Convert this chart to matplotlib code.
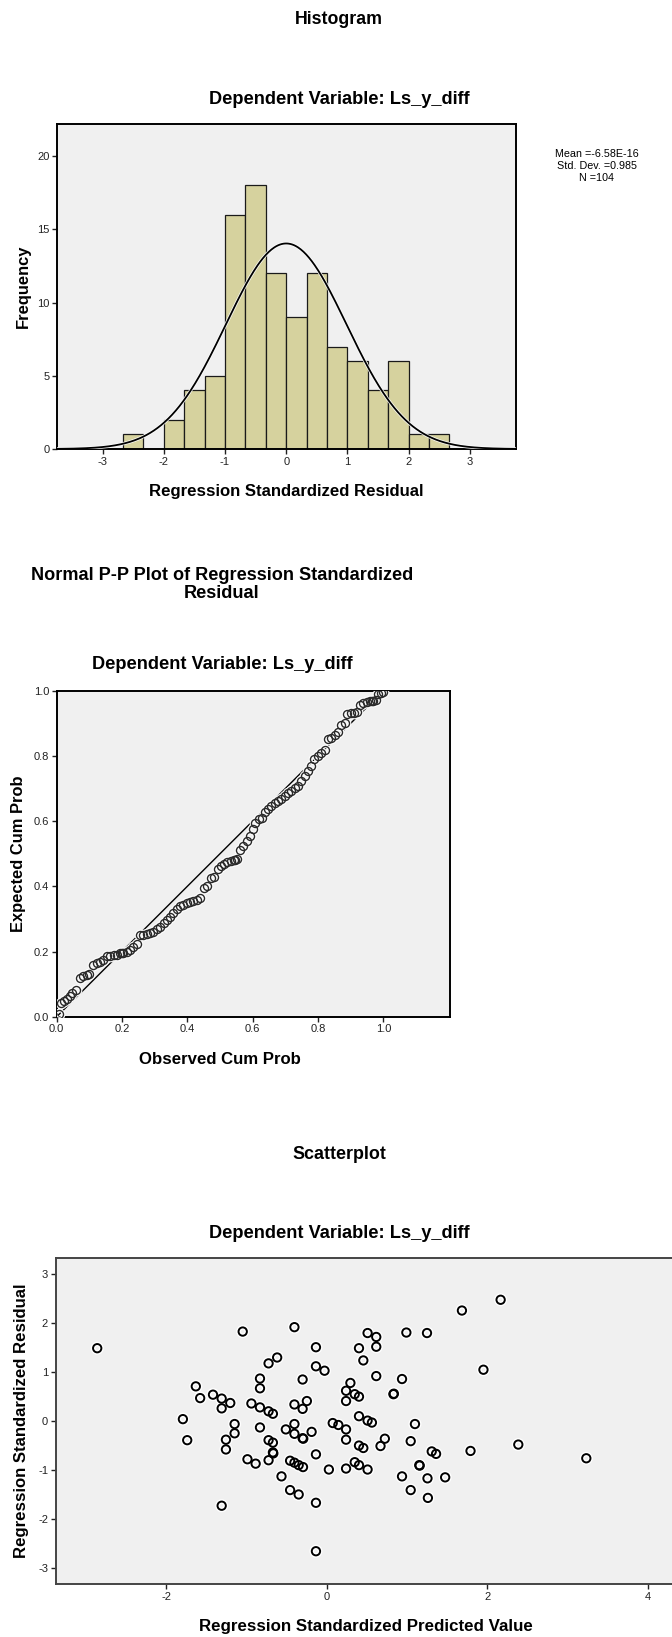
import numpy as np
import matplotlib
matplotlib.use("Agg")
import matplotlib.pyplot as plt

plt.rcParams['font.family'] = ['Liberation Sans', 'DejaVu Sans']
plt.rcParams['axes.unicode_minus'] = False

# ---------------- data ----------------
# Histogram of regression standardized residuals
hist_bin_left = [-2.667, -2.333, -2.0, -1.667, -1.333, -1.0, -0.667, -0.333,
                 0.0, 0.333, 0.667, 1.0, 1.333, 1.667, 2.0, 2.333]
hist_counts = [1, 0, 2, 4, 5, 16, 18, 12, 9, 12, 7, 6, 4, 6, 1, 1]
hist_bin_width = 0.3333
hist_mean = -6.58e-16
hist_std = 0.985
hist_n = 104
hist_xticks = [-3, -2, -1, 0, 1, 2, 3]
hist_yticks = [0, 5, 10, 15, 20]

# Normal P-P plot points
pp_obs = [0.006, 0.014, 0.022, 0.031, 0.040, 0.048, 0.058, 0.071, 0.082, 0.092,
          0.100, 0.112, 0.122, 0.133, 0.143, 0.153, 0.163, 0.174, 0.184, 0.194,
          0.199, 0.204, 0.214, 0.224, 0.235, 0.245, 0.255, 0.265, 0.276, 0.286,
          0.296, 0.306, 0.316, 0.327, 0.337, 0.347, 0.357, 0.367, 0.378, 0.388,
          0.398, 0.408, 0.418, 0.429, 0.439, 0.451, 0.461, 0.471, 0.482, 0.494,
          0.504, 0.512, 0.522, 0.533, 0.543, 0.547, 0.551, 0.561, 0.571, 0.582,
          0.592, 0.602, 0.608, 0.618, 0.627, 0.637, 0.647, 0.657, 0.667, 0.678,
          0.688, 0.698, 0.708, 0.718, 0.729, 0.739, 0.749, 0.759, 0.769, 0.780,
          0.788, 0.800, 0.810, 0.820, 0.830, 0.841, 0.851, 0.861, 0.871, 0.882,
          0.890, 0.900, 0.910, 0.918, 0.929, 0.939, 0.949, 0.959, 0.964, 0.969,
          0.976, 0.984, 0.992, 1.000]
pp_exp = [0.007, 0.041, 0.048, 0.055, 0.063, 0.072, 0.081, 0.118, 0.125, 0.129,
          0.131, 0.160, 0.164, 0.168, 0.174, 0.186, 0.186, 0.188, 0.190, 0.194,
          0.195, 0.196, 0.199, 0.206, 0.214, 0.222, 0.250, 0.252, 0.255, 0.257,
          0.260, 0.268, 0.276, 0.286, 0.296, 0.307, 0.317, 0.329, 0.339, 0.344,
          0.349, 0.353, 0.355, 0.358, 0.363, 0.394, 0.401, 0.426, 0.429, 0.454,
          0.462, 0.467, 0.474, 0.478, 0.480, 0.482, 0.484, 0.511, 0.523, 0.539,
          0.554, 0.577, 0.595, 0.605, 0.610, 0.628, 0.636, 0.646, 0.654, 0.662,
          0.669, 0.677, 0.685, 0.692, 0.702, 0.708, 0.723, 0.738, 0.754, 0.769,
          0.791, 0.801, 0.810, 0.818, 0.851, 0.856, 0.863, 0.873, 0.894, 0.902,
          0.930, 0.932, 0.932, 0.934, 0.955, 0.963, 0.965, 0.968, 0.968, 0.968,
          0.973, 0.989, 0.994, 0.996]
pp_ticks = [0.0, 0.2, 0.4, 0.6, 0.8, 1.0]
pp_ticklabels = ['0.0', '0.2', '0.4', '0.6', '0.8', '1.0']

# Scatterplot: standardized predicted value vs standardized residual
sc_pred = [-2.858, -1.046, -0.402, -0.134, -0.134, -0.027, -0.617, -0.724, -0.831, -0.831,
           -0.300, -1.630, -1.576, -1.416, -1.308, -1.201, -1.308, -0.938, -0.831, -0.724,
           -0.670, -0.402, -0.247, -0.300, -1.791, -1.737, -1.147, -1.147, -1.255, -1.255,
           -0.831, -0.724, -0.670, -0.670, -0.665, -0.987, -0.885, -0.724, -0.509, -0.402,
           -0.402, -0.300, -0.292, -0.188, -0.134, -0.456, -0.402, -0.349, -0.295, -0.563,
           -0.456, -0.349, -0.134, -1.308, -0.134, 0.027, 0.075, 0.145, 0.241, 0.241,
           0.241, 0.241, 0.241, 0.295, 0.349, 0.402, 0.402, 0.509, 0.563, 0.402,
           0.456, 0.349, 0.402, 0.509, 0.402, 0.456, 0.509, 0.617, 0.617, 0.617,
           0.724, 0.670, 0.831, 0.836, 0.938, 0.992, 1.249, 1.099, 1.046, 1.153,
           1.158, 0.938, 1.046, 1.255, 1.260, 1.308, 1.362, 1.475, 1.684, 2.166,
           1.952, 1.791, 2.386, 3.233]
sc_resid = [1.49, 1.83, 1.92, 1.51, 1.12, 1.03, 1.30, 1.18, 0.87, 0.67,
            0.85, 0.71, 0.47, 0.54, 0.46, 0.37, 0.26, 0.36, 0.28, 0.20,
            0.15, 0.34, 0.41, 0.25, 0.04, -0.39, -0.06, -0.25, -0.38, -0.58,
            -0.13, -0.39, -0.44, -0.64, -0.66, -0.78, -0.87, -0.80, -0.17, -0.06,
            -0.26, -0.35, -0.36, -0.22, -0.68, -0.81, -0.85, -0.90, -0.94, -1.13,
            -1.41, -1.50, -1.67, -1.73, -2.66, -0.99, -0.04, -0.08, -0.17, -0.38,
            -0.97, 0.62, 0.41, 0.78, 0.55, 0.50, 0.10, 0.01, -0.03, -0.50,
            -0.55, -0.84, -0.90, -0.99, 1.49, 1.24, 1.80, 1.72, 1.52, 0.92,
            -0.36, -0.51, 0.55, 0.56, 0.86, 1.81, 1.80, -0.06, -0.41, -0.90,
            -0.91, -1.13, -1.41, -1.17, -1.57, -0.62, -0.67, -1.15, 2.26, 2.48,
            1.05, -0.61, -0.48, -0.76]
sc_xticks = [-2, 0, 2, 4]
sc_yticks = [-3, -2, -1, 0, 1, 2, 3]

# ---------------- figure ----------------
W, H = 672, 1637
fig = plt.figure(figsize=(W / 100, H / 100), dpi=100)
BG = '#F0F0F0'
BAR = '#D6D29E'


def ax_at(l, t, r, b):
    return fig.add_axes([l / W, 1 - b / H, (r - l) / W, (b - t) / H])


def style(ax, spine_color='black'):
    ax.set_facecolor(BG)
    for s in ax.spines.values():
        s.set_color(spine_color)
        s.set_linewidth(1.4)
    ax.tick_params(direction='out', length=3.5, width=1.0, labelsize=8,
                   colors='#222222', pad=2)


fits = []  # (list of texts, target width px of first, rotated)


def ftext(x, y, s, bold=True, rot=0):
    return fig.text(x / W, 1 - y / H, s, ha='center', va='center', rotation=rot,
                    fontweight='bold' if bold else 'normal', fontsize=10,
                    color='black')


# ---- Histogram ----
ax1 = ax_at(57.3, 124, 515.7, 449)
style(ax1)
ax1.bar(hist_bin_left, hist_counts, width=hist_bin_width, align='edge',
        color=BAR, edgecolor='#1a1a1a', linewidth=0.9, zorder=2)
xs = np.linspace(-3.74, 3.75, 500)
ys = hist_n * hist_bin_width * np.exp(-0.5 * ((xs - hist_mean) / hist_std) ** 2) / (hist_std * np.sqrt(2 * np.pi))
ax1.plot(xs, ys, color='white', linewidth=2.4, zorder=3, alpha=0.9)
ax1.plot(xs, ys, color='black', linewidth=1.3, zorder=4)
ax1.set_xlim(-3.74, 3.75)
ax1.set_ylim(0, 22.2)
ax1.set_xticks(hist_xticks)
ax1.set_yticks(hist_yticks)

t = ftext(338.5, 19, 'Histogram'); fits.append(([t], 88, False))
t = ftext(339.5, 99, 'Dependent Variable: Ls_y_diff'); fits.append(([t], 261, False))
s1 = ftext(596.7, 154, 'Mean =-6.58E-16', bold=False)
s2 = ftext(596.7, 166, 'Std. Dev. =0.985', bold=False)
s3 = ftext(596.7, 178, 'N =104', bold=False)
fits.append(([s1, s2, s3], 83, False))
t = ftext(23.3, 286, 'Frequency', rot=90); fits.append(([t], 84, True))
t = ftext(286.5, 491.7, 'Regression Standardized Residual'); fits.append(([t], 277, False))

# ---- P-P plot ----
ax2 = ax_at(56.7, 690.7, 450, 1016.7)
style(ax2)
ax2.plot([0, 1], [0, 1], color='black', linewidth=1.0, zorder=2)
ax2.plot(pp_obs, pp_exp, linestyle='none', marker='o', markersize=5.8,
         markerfacecolor='none', markeredgecolor='white', markeredgewidth=2.6,
         zorder=3)
ax2.plot(pp_obs, pp_exp, linestyle='none', marker='o', markersize=5.8,
         markerfacecolor='none', markeredgecolor='#2a2a2a', markeredgewidth=1.0,
         zorder=4)
ax2.set_xlim(0, 1.204)
ax2.set_ylim(0, 1.0)
ax2.set_xticks(pp_ticks)
ax2.set_xticklabels(pp_ticklabels)
ax2.set_yticks(pp_ticks)
ax2.set_yticklabels(pp_ticklabels)

p1 = ftext(222, 575.5, 'Normal P-P Plot of Regression Standardized')
p2 = ftext(222, 594, 'Residual')
fits.append(([p1, p2], 381, False))
t = ftext(222, 664.5, 'Dependent Variable: Ls_y_diff'); fits.append(([t], 261, False))
t = ftext(18.3, 853.7, 'Expected Cum Prob', rot=90); fits.append(([t], 157, True))
t = ftext(220, 1060, 'Observed Cum Prob'); fits.append(([t], 163, False))

# ---- Scatterplot ----
ax3 = ax_at(55.7, 1257.7, 676, 1584)
style(ax3, spine_color='#444444')
ax3.scatter(sc_pred, sc_resid, s=36, facecolors='none', edgecolors='white',
            linewidths=3.4, zorder=3)
ax3.scatter(sc_pred, sc_resid, s=36, facecolors='none', edgecolors='black',
            linewidths=1.4, zorder=4)
ax3.set_xlim(-3.375, 4.35)
ax3.set_ylim(-3.33, 3.34)
ax3.set_xticks(sc_xticks)
ax3.set_yticks(sc_yticks)

t = ftext(339, 1154.5, 'Scatterplot'); fits.append(([t], 93, False))
t = ftext(339.3, 1233, 'Dependent Variable: Ls_y_diff'); fits.append(([t], 261, False))
t = ftext(21.7, 1421, 'Regression Standardized Residual', rot=90); fits.append(([t], 276, True))
t = ftext(366, 1626.7, 'Regression Standardized Predicted Value'); fits.append(([t], 334, False))

# fit text sizes to measured widths
fig.canvas.draw()
r = fig.canvas.get_renderer()
for group, target, rot in fits:
    bb = group[0].get_window_extent(r)
    cur = bb.height if rot else bb.width
    size = group[0].get_fontsize() * target / cur
    for g in group:
        g.set_fontsize(size)

fig.savefig('out.png', dpi=100, facecolor='white')
